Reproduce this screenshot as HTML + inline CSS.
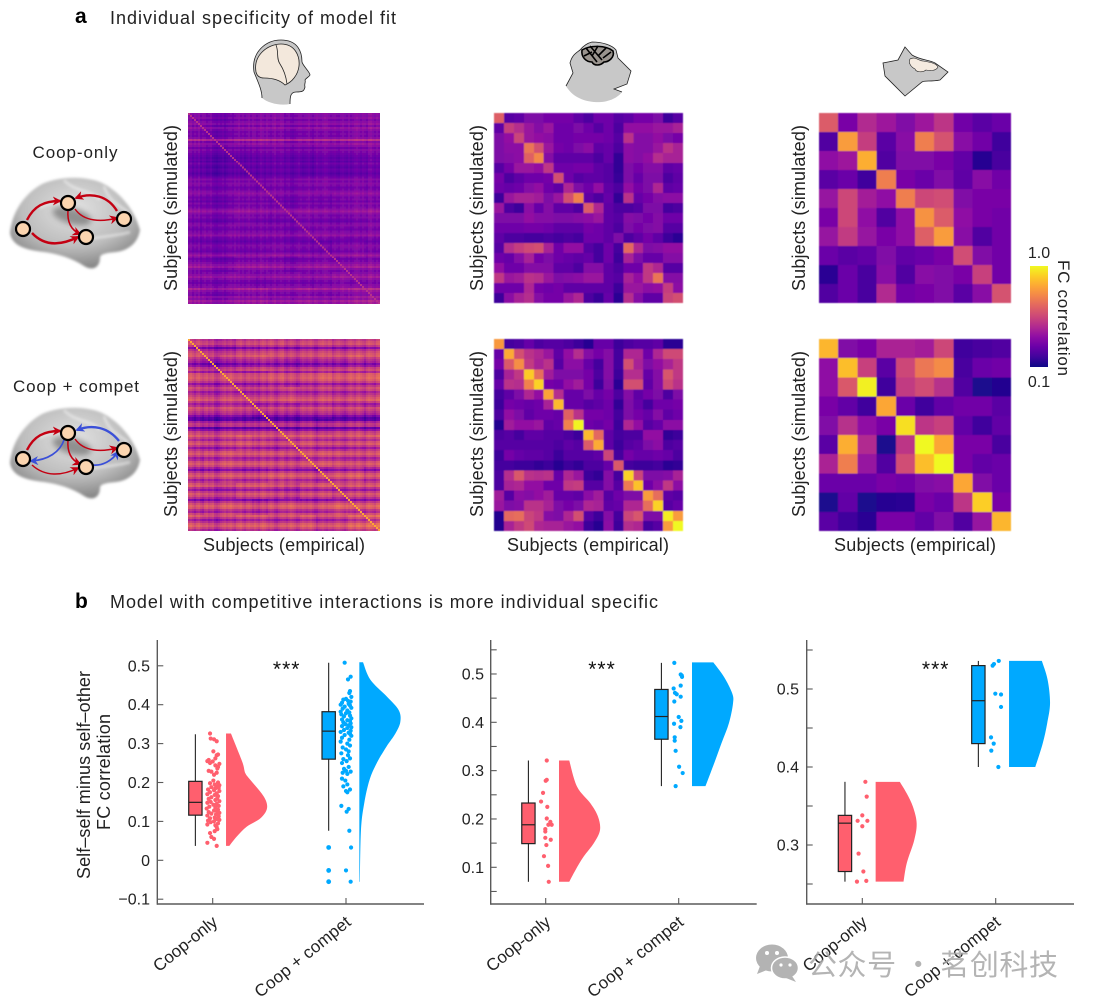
<!DOCTYPE html>
<html lang="en">
<head>
<meta charset="utf-8">
<title>Individual specificity of model fit</title>
<style>
html,body{margin:0;padding:0;background:#fff;}
svg{display:block;font-family:"Liberation Sans","Noto Sans CJK SC",sans-serif;fill:#222;}
text{font-size:18px;}
.tick{font-size:16px;fill:#222;}
</style>
</head>
<body>
<svg id="fig" xmlns="http://www.w3.org/2000/svg" width="1093" height="1008" viewBox="0 0 1093 1008">
<defs>
<radialGradient id="brainFill" cx="0.5" cy="0.35" r="0.68">
<stop offset="0" stop-color="#e2e2e2"/><stop offset="0.6" stop-color="#bdbdbd"/><stop offset="1" stop-color="#7f7f7f"/>
</radialGradient>
<filter id="soft" x="-10%" y="-10%" width="120%" height="120%"><feGaussianBlur stdDeviation="1.2"/></filter>
<filter id="softer" x="-30%" y="-30%" width="160%" height="160%"><feGaussianBlur stdDeviation="3"/></filter>
<filter id="heatBlur" x="-2%" y="-2%" width="104%" height="104%"><feGaussianBlur stdDeviation="0.5"/></filter>
<filter id="denseBlur" x="-2%" y="-2%" width="104%" height="104%"><feGaussianBlur stdDeviation="0.35"/></filter>
<marker id="arrowRed" viewBox="0 0 10 10" refX="8" refY="5" markerWidth="9" markerHeight="9" markerUnits="userSpaceOnUse" orient="auto"><path d="M0,0L10,5L0,10L3,5Z" fill="#c40012"/></marker>
<marker id="arrowBlue" viewBox="0 0 10 10" refX="8" refY="5" markerWidth="9" markerHeight="9" markerUnits="userSpaceOnUse" orient="auto"><path d="M0,0L10,5L0,10L3,5Z" fill="#3a4fd8"/></marker>
<linearGradient id="cbarGrad" x1="0" y1="1" x2="0" y2="0"></linearGradient>
<g id="brainShape">
<path d="M10,233C12,212 24,194 42,184C60,176 84,176 100,182C118,190 134,208 140,230C138,242 130,250 116,252C106,253 100,254 100,258C100,266 94,272 84,266C72,258 58,254 44,252C26,250 12,246 10,233Z" fill="url(#brainFill)" filter="url(#soft)"/>
<ellipse cx="72" cy="216" rx="20" ry="8" fill="#5e5e5e" opacity=".6" filter="url(#softer)" transform="rotate(15 72 216)"/>
<path d="M64,180C74,192 92,190 100,200M104,186C108,200 118,205 128,212M40,208C52,200 60,205 70,198M86,240C100,236 118,236 130,232" fill="none" stroke="#f0f0f0" stroke-width="3" opacity=".55" filter="url(#soft)"/>
</g>
</defs>

<text x="75" y="23" style="font-size:21px;font-weight:700;fill:#000">a</text>
<text x="110" y="24" textLength="286" lengthAdjust="spacing">Individual specificity of model fit</text>
<text x="75" y="608" style="font-size:21px;font-weight:700;fill:#000">b</text>
<text x="110" y="608" textLength="548" lengthAdjust="spacing">Model with competitive interactions is more individual specific</text>

<g>
<path d="M262,98C262,90 258,82 254,72C251,52 266,40 281,40C298,40 302,52 302,62C303,66 310,72 310,75C309,77 306,78 305,80C306,82 304,84 305,87C304,91 303,92 296,92C290,92 290,98 290,104C280,106 268,103 262,98Z" fill="#c8c8c8" stroke="none"/>
<path d="M262,98C262,90 258,82 254,72C251,52 266,40 281,40C298,40 302,52 302,62C303,66 310,72 310,75C309,77 306,78 305,80C306,82 304,84 305,87C304,91 303,92 296,92C290,92 290,98 290,104" fill="none" stroke="#222" stroke-width=".8"/>
<path d="M256,72C253,55 268,44 281,44C295,44 300,56 299,66C298,75 292,82 285,85C280,80 272,78 264,78C260,78 257,76 256,72Z" fill="#f3e8dc" stroke="#222" stroke-width=".8"/>
<path d="M276,45C279,52 276,58 280,64C284,70 286,76 287,84" fill="none" stroke="#222" stroke-width=".8"/>
</g>
<g>
<path d="M592,42C602,42 612,45 616,50L618,58L631,71L627,84L614,89L622,92C616,100 604,103 594,102C582,101 572,96 566,86L573,73L570,63C572,55 576,53 580,50C584,45 588,43 592,42Z" fill="#c8c8c8" stroke="none"/>
<path d="M566,86L573,73L570,63C572,55 576,53 580,50C584,45 588,43 592,42C602,42 612,45 616,50L618,58L631,71L627,84L614,89L622,92" fill="none" stroke="#222" stroke-width=".8"/>
<path d="M582,50C590,45 606,45 613,51C615,58 608,62 604,62C600,66 594,66 592,62C586,62 581,57 582,50Z" fill="#9a948e" stroke="#000" stroke-width="1.6"/>
<path d="M586,48L597,62M590,46L602,60M598,46L592,56M606,48L598,56M611,52L603,58M584,56L592,52" fill="none" stroke="#000" stroke-width="1.6"/>
</g>
<g>
<path d="M905,47L912,55C920,60 930,60 935,63L948,72L940,80C930,82 925,80 922,82L905,96L885,76L883,63L898,60Z" fill="#c8c8c8" stroke="#222" stroke-width=".8"/>
<path d="M910,59C915,56 919,61 923,61C929,62 936,63 938,67C936,71 930,71 926,70C922,73 916,72 915,69C911,67 908,63 910,59Z" fill="#f5ebe0" stroke="#222" stroke-width=".6"/>
</g>

<text x="75" y="158" text-anchor="middle" textLength="85" style="font-size:17px">Coop-only</text>
<text x="76" y="392" text-anchor="middle" textLength="126" style="font-size:17px">Coop + compet</text>

<g>
<use href="#brainShape"/>
<g fill="none" stroke="#c40012">
<path d="M27,220C34,206 44,201 60,201" stroke-width="2.4" marker-end="url(#arrowRed)"/>
<path d="M32,233C45,247 62,245 78,237" stroke-width="2.4" marker-end="url(#arrowRed)"/>
<path d="M68,210C67,222 71,230 80,234" stroke-width="1.5" marker-end="url(#arrowRed)"/>
<path d="M75,209C84,222 102,222 117,218" stroke-width="1.5" marker-end="url(#arrowRed)"/>
<path d="M117,211C108,196 92,192 76,198" stroke-width="2.4" marker-end="url(#arrowRed)"/>
</g>
<g fill="#fbd5b0" stroke="#000" stroke-width="2.2">
<circle cx="23" cy="229" r="7"/>
<circle cx="68" cy="203" r="7"/>
<circle cx="86" cy="237" r="7"/>
<circle cx="124" cy="219" r="7"/>
</g>
</g>
<g>
<use href="#brainShape" transform="translate(0,230)"/>
<g fill="none" stroke="#c40012">
<path d="M27,450C34,436 44,431 60,431" stroke-width="2.4" marker-end="url(#arrowRed)"/>
<path d="M32,465C45,477 62,476 78,468" stroke-width="1.5" marker-end="url(#arrowRed)"/>
<path d="M68,440C67,452 71,460 80,464" stroke-width="1.5" marker-end="url(#arrowRed)"/>
<path d="M75,439C84,452 102,452 117,448" stroke-width="1.5" marker-end="url(#arrowRed)"/>
</g>
<g fill="none" stroke="#3a4fd8">
<path d="M119,441C108,427 92,424 77,430" stroke-width="2.4" marker-end="url(#arrowBlue)"/>
<path d="M64,440C60,452 48,460 31,461" stroke-width="1.7" marker-end="url(#arrowBlue)"/>
<path d="M93,465C102,466 112,461 118,452" stroke-width="1.7" marker-end="url(#arrowBlue)"/>
</g>
<g fill="#fbd5b0" stroke="#000" stroke-width="2.2">
<circle cx="23" cy="459" r="7"/>
<circle cx="68" cy="433" r="7"/>
<circle cx="86" cy="467" r="7"/>
<circle cx="124" cy="450" r="7"/>
</g>
</g>

<text transform="translate(177,208) rotate(-90)" text-anchor="middle" textLength="166">Subjects (simulated)</text>
<text transform="translate(483,208) rotate(-90)" text-anchor="middle" textLength="166">Subjects (simulated)</text>
<text transform="translate(805,208) rotate(-90)" text-anchor="middle" textLength="166">Subjects (simulated)</text>
<text transform="translate(177,434) rotate(-90)" text-anchor="middle" textLength="166">Subjects (simulated)</text>
<text transform="translate(483,434) rotate(-90)" text-anchor="middle" textLength="166">Subjects (simulated)</text>
<text transform="translate(805,434) rotate(-90)" text-anchor="middle" textLength="166">Subjects (simulated)</text>
<text x="284" y="551" text-anchor="middle" textLength="162">Subjects (empirical)</text>
<text x="588" y="551" text-anchor="middle" textLength="162">Subjects (empirical)</text>
<text x="915" y="551" text-anchor="middle" textLength="162">Subjects (empirical)</text>

<g id="heatmaps"></g>

<rect x="1030" y="266" width="18" height="101" fill="url(#cbarGrad)"/>
<text x="1039" y="258" text-anchor="middle" class="tick">1.0</text>
<text x="1039" y="387" text-anchor="middle" class="tick">0.1</text>
<text transform="translate(1058,318) rotate(90)" text-anchor="middle" textLength="116" style="font-size:17px">FC correlation</text>

<g id="rainclouds"></g>

<text transform="translate(90,775) rotate(-90)" text-anchor="middle" textLength="208" style="font-size:18px">Self–self minus self–other</text>
<text transform="translate(110,772) rotate(-90)" text-anchor="middle" textLength="116" style="font-size:18px">FC correlation</text>

<g>
<g fill="#b3b3b3">
<ellipse cx="772" cy="958" rx="16" ry="13.5"/>
<path d="M760,966L757,974L767,970Z"/>
<ellipse cx="785" cy="968" rx="13.5" ry="11" stroke="#fff" stroke-width="1.5"/>
<path d="M792,976L796,982L786,978Z"/>
</g>
<g fill="#fff"><circle cx="767" cy="953" r="2"/><circle cx="777" cy="953" r="2"/><circle cx="781" cy="965" r="1.6"/><circle cx="790" cy="965" r="1.6"/></g>
<text x="808" y="975" textLength="250" style="font-size:29px;fill:#a8a8a8;opacity:.85;font-family:'Noto Sans CJK SC',sans-serif">公众号 · 茗创科技</text>
</g>
</svg>

<script>
// ---------- colour scale stops (plasma) ----------
const plasmaStops = ['#0d0887','#41049d','#6a00a8','#8f0da4','#b12a90','#cc4778','#e16462','#f2844b','#fca636','#fcce25','#f0f921'];

// ---------- heatmap data: FC level on 0-100 colour scale ----------
const macaqueCoopOnly = [
[55,12,14,22,22,20,20,20,14,10,18,18,12,14,20,20,22,6,12],
[14,44,38,30,24,30,18,18,22,18,12,18,10,28,28,28,30,30,34],
[22,28,46,30,28,26,18,18,20,20,20,18,12,40,24,24,28,22,20],
[22,26,26,62,50,30,20,18,22,26,14,16,10,26,24,24,30,40,34],
[22,24,26,56,68,24,14,14,14,14,10,16,4,26,24,28,38,34,34],
[12,20,30,30,28,42,18,18,20,20,14,12,4,22,20,24,24,14,16],
[20,10,14,18,18,20,50,18,12,14,14,12,5,22,16,22,22,10,14],
[18,16,18,24,28,18,14,36,22,18,28,14,10,28,20,22,36,14,16],
[6,30,34,34,32,22,30,50,66,14,10,16,4,40,16,20,24,26,26],
[30,10,6,26,16,24,14,14,10,54,36,14,10,10,12,22,22,8,10],
[22,22,22,28,24,24,22,22,24,26,30,14,12,24,22,20,24,18,18],
[18,18,18,20,20,18,14,14,14,20,18,14,10,22,20,22,24,12,12],
[14,10,10,8,8,10,8,10,8,18,18,14,22,10,14,20,14,6,3],
[12,38,44,48,50,34,18,28,28,12,8,18,8,58,36,22,24,28,28],
[18,16,24,34,20,22,18,16,14,16,8,18,6,34,22,16,16,24,24],
[28,18,18,24,24,24,14,14,10,24,24,14,10,18,18,42,36,12,12],
[42,30,32,40,38,30,22,24,26,30,30,14,12,34,28,42,62,24,24],
[18,18,18,36,20,18,20,14,14,14,14,14,6,30,30,26,28,44,26],
[6,26,34,38,24,20,20,30,36,10,5,16,3,38,24,14,14,46,50]];

const macaqueCompet = [
[75,10,12,18,12,14,14,12,8,4,18,18,8,12,14,14,16,5,5],
[18,80,52,42,38,32,16,30,40,26,22,26,10,38,38,20,38,50,50],
[22,55,72,45,36,42,14,28,28,18,10,26,10,52,36,24,30,36,44],
[12,36,44,88,62,34,24,24,24,22,12,26,8,40,40,18,26,54,44],
[18,42,40,68,90,22,20,30,34,22,8,24,5,52,52,16,26,50,42],
[10,16,24,38,30,78,40,18,18,24,18,22,12,26,16,22,24,12,24],
[8,22,20,18,20,36,84,18,18,14,16,20,6,24,18,10,20,20,22],
[12,30,24,16,20,20,18,58,42,22,22,20,10,24,22,18,26,16,20],
[3,34,30,30,32,16,18,68,98,20,18,22,8,38,30,14,18,28,28],
[12,14,10,16,16,14,14,12,8,84,60,16,10,12,12,30,30,6,8],
[14,14,14,14,14,14,12,16,14,56,80,16,8,14,16,24,28,12,14],
[8,22,18,16,16,14,8,14,14,14,16,48,10,22,18,18,20,18,12],
[10,10,8,8,6,8,4,8,6,12,12,18,55,10,8,8,10,5,6],
[12,40,55,42,40,42,18,38,32,8,6,26,10,90,48,24,24,26,36],
[12,36,38,30,30,20,20,44,46,14,14,26,14,66,86,20,28,44,28],
[34,14,28,26,30,34,18,18,16,28,34,14,20,24,24,76,62,16,14],
[32,24,26,42,42,36,24,22,24,38,36,16,18,38,38,62,90,14,18],
[3,60,62,48,44,26,24,38,52,14,8,26,10,48,54,24,24,96,76],
[3,36,44,50,38,36,36,32,30,8,4,28,8,40,38,10,14,76,100]];

const ratCoopOnly = [
[55,22,38,32,24,32,42,20,14,18],
[12,75,45,14,26,66,52,26,20,8],
[28,32,80,12,24,24,22,16,3,10],
[14,18,8,66,22,18,24,15,26,20],
[30,48,34,28,66,48,50,24,22,22],
[22,48,28,12,28,72,55,28,22,20],
[30,44,30,22,28,56,75,26,12,20],
[18,14,16,24,16,18,22,50,24,20],
[4,18,10,26,12,26,24,22,46,20],
[12,18,10,38,20,22,24,14,26,52]];

const ratCompet = [
[84,26,24,38,38,36,50,10,12,14],
[30,86,48,16,50,66,72,12,20,22],
[30,56,98,10,46,52,42,14,3,4],
[24,18,10,80,20,10,18,22,22,16],
[26,42,30,24,94,44,48,18,10,18],
[16,82,40,3,44,100,80,24,24,12],
[38,68,32,14,52,86,100,24,18,20],
[20,20,20,24,22,26,28,80,26,20],
[3,18,3,5,6,24,20,44,90,24],
[16,10,6,24,24,18,26,14,32,84]];

// Human matrices: per-subject levels read from the row and column striping,
// plus coarse regional levels for the patchy texture
const humanCoopRowLevels = [
30,28,31,26,30,33,26,34,30,26,28,26,
30,44,28,34,32,26,31,28,26,24,22,24,
20,26,22,20,24,22,19,22,25,30,26,30,
28,24,26,30,34,30,26,28,24,30,26,28,
32,36,30,26,28,24,22,28,30,26,24,28,
30,34,26,24,22,26,30,28,26,24,30,36,
28,24,26,30,34,38,30,26,28,32,36,30,
26,24,28,30,40,32,28,26,34,30,38,34];
const humanCoopColLevels = [
2,3,-1,2,0,3,-2,1,2,-1,0,2,
-2,-3,-4,-2,-3,-1,-4,-2,0,1,-1,2,
1,3,0,2,-1,1,3,0,2,1,-2,0,
3,1,-1,2,0,-2,1,3,-1,0,2,1,
-2,0,1,-2,-3,-1,0,2,1,-1,0,1,
3,0,-2,1,2,0,-1,1,3,2,0,-2,
1,2,0,-1,2,3,1,0,2,-1,1,3,
4,2,0,3,1,-1,4,5,2,0,3,1];
const humanCoopPatches = [
[-3,-5,-6,-4,-3,-2,-4,-3,-2,-4,-3,-2],
[-4,-6,-5,-4,-2,-3,-5,-4,-3,-4,-2,-3],
[-5,-7,-6,-7,-5,-4,-5,-6,-4,-6,-5,-4],
[-4,-6,-4,-5,-4,-3,-3,-5,-3,-5,-4,-3],
[-3,-4,-3,-4,-5,-3,-4,-3,-2,-4,-3,-4],
[-5,-6,-5,-4,-4,-5,-6,-4,-5,-4,-3,-4],
[-3,-4,-3,-2,-3,-4,-3,-2,-3,-4,-3,-2],
[-4,-3,-2,-4,-3,-3,-4,-3,-2,-3,-4,-3],
[-4,-4,-3,-5,-4,-2,-3,-4,-5,-3,-2,-4],
[-3,-4,-5,-3,-2,-3,-5,-3,-2,-4,-3,-3],
[-4,-3,-2,-4,-5,-3,-2,-4,-3,-1,-3,-2],
[-3,-5,-4,-3,-2,-4,-3,-2,-4,-3,-1,0]];
const humanCoopDiagonal = 42;

const humanCompetRowLevels = [
45,51,53,43,27,41,49,53,57,47,41,37,
25,33,47,51,35,53,55,57,53,45,31,41,
53,49,37,43,49,55,59,47,35,41,53,49,
43,39,27,17,21,41,49,47,23,35,51,55,
57,47,39,51,55,45,33,43,53,57,49,37,
41,53,57,51,41,29,45,55,59,51,39,47,
53,57,43,33,47,55,51,41,27,43,53,59,
55,43,37,51,57,47,35,45,55,59,51,41];
const humanCompetColLevels = [
4,6,2,-2,3,5,0,-3,2,4,-1,1,
3,-4,-6,-3,-1,2,4,0,3,5,1,-2,
2,4,6,1,-2,3,5,2,-1,3,0,-3,
2,5,3,-1,1,4,2,-3,-5,0,3,4,
1,-2,2,5,3,0,-4,-2,1,4,2,0,
3,5,1,-3,-5,0,2,4,1,-1,3,2,
-2,1,4,5,2,0,-3,1,3,5,2,-1,
4,6,3,0,-4,2,5,3,1,-2,4,6];
const humanCompetPatches = [
[-2,-6,-8,-4,-2,0,-4,-2,0,-4,-2,0],
[-4,-8,-6,-4,0,-2,-6,-4,-2,-4,0,-2],
[-2,-4,-2,-6,-4,0,-4,-2,2,-2,0,2],
[-4,-6,-4,-8,-6,-4,-2,-6,-2,-6,-4,-2],
[-2,-2,0,-4,-6,-2,-4,-2,0,-4,-2,-4],
[-6,-8,-6,-8,-6,-6,-8,-6,-8,-6,-4,-6],
[-2,-4,-2,0,-2,-4,-2,0,-2,-4,-2,0],
[-4,-2,0,-4,-2,-2,-4,-2,0,-2,-4,-2],
[-6,-4,-2,-6,-4,0,-2,-4,-6,-2,0,-4],
[-2,-4,-6,-2,0,-2,-6,-2,0,-4,-2,-2],
[-4,-2,0,-4,-6,-2,0,-4,-2,2,-2,0],
[-2,-6,-4,-2,0,-4,-2,0,-4,-2,2,4]];
const humanCompetDiagonal = 80;

// ---------- raincloud data ----------
const categories = ['Coop-only','Coop + compet'];

const ticksHuman = [-0.1,0,0.1,0.2,0.3,0.4,0.5];
const tickLabelsHuman = ['−0.1','0','0.1','0.2','0.3','0.4','0.5'];
const ticksMacaque = [0.1,0.2,0.3,0.4,0.5];
const tickLabelsMacaque = ['0.1','0.2','0.3','0.4','0.5'];
const minorTicksMacaque = [0.05,0.15,0.25,0.35,0.45,0.55];
const ticksRat = [0.3,0.4,0.5];
const tickLabelsRat = ['0.3','0.4','0.5'];
const minorTicksRat = [0.25,0.35,0.45,0.55];

// box stats: low whisker, q1, median, q3, high whisker
const boxHumanCoop = [0.037,0.116,0.149,0.203,0.324];
const boxHumanCompet = [0.076,0.26,0.332,0.382,0.508];
const boxMacaqueCoop = [0.07,0.149,0.188,0.233,0.321];
const boxMacaqueCompet = [0.268,0.365,0.412,0.468,0.523];
const boxRatCoop = [0.253,0.266,0.328,0.338,0.381];
const boxRatCompet = [0.4,0.43,0.485,0.53,0.536];
const outliersHumanCompet = [0.033,-0.026,-0.055];

// cloud outlines: value and relative density
const cloudHumanCoopV = [0.326,0.292,0.249,0.224,0.207,0.164,0.134,0.108,0.087,0.061,0.037];
const cloudHumanCoopD = [0.12,0.25,0.41,0.47,0.59,0.92,1,0.84,0.51,0.26,0.08];
const cloudHumanCompetV = [0.509,0.464,0.421,0.386,0.356,0.326,0.292,0.249,0.207,0.147,0.078,-0.055];
const cloudHumanCompetD = [0.09,0.27,0.67,0.96,1,0.88,0.66,0.42,0.25,0.12,0.04,0.012];
const cloudMacaqueCoopV = [0.321,0.267,0.232,0.205,0.177,0.15,0.122,0.094,0.07];
const cloudMacaqueCoopD = [0.25,0.44,0.77,0.95,1,0.85,0.6,0.4,0.25];
const cloudMacaqueCompetV = [0.524,0.494,0.46,0.439,0.398,0.357,0.315,0.268];
const cloudMacaqueCompetD = [0.52,0.78,0.98,1,0.9,0.72,0.54,0.33];
const cloudRatCoopV = [0.381,0.366,0.349,0.328,0.306,0.277,0.253];
const cloudRatCoopD = [0.59,0.76,0.91,1,0.94,0.76,0.68];
const cloudRatCompetV = [0.536,0.512,0.482,0.456,0.43,0.4];
const cloudRatCompetD = [0.8,0.94,1,0.93,0.82,0.64];

// scatter points: value and horizontal jitter (category units)
const rainHumanCoopV = [
.326,.313,.311,.306,.28,.272,.27,.262,.258,.255,.254,.25,.248,.244,.24,.236,.23,.228,.225,.22,
.205,.2,.198,.195,.193,.19,.188,.186,.185,.182,.18,.178,.175,.172,.17,.168,.165,.162,.16,.158,
.155,.152,.15,.148,.145,.143,.14,.138,.136,.133,.13,.128,.126,.124,.122,.12,.118,.115,.113,.11,
.108,.106,.104,.102,.1,.098,.095,.092,.09,.085,.08,.075,.07,.06,.055,.045,.037];
const rainHumanCoopJ = [
-.02,-.015,.01,.03,.005,.04,.03,.02,-.03,-.04,0,-.02,.05,.02,.04,.035,-.03,-.01,.03,.01,
.005,.04,-.02,.015,.05,.03,-.01,.045,.02,-.035,.01,.05,-.02,.03,-.04,.015,.04,-.01,.035,-.03,
.02,.05,-.015,-.04,.03,.005,.045,-.025,.02,-.045,.04,.01,.035,-.03,.05,-.01,.025,-.04,.045,.015,
-.02,.03,.05,-.035,.01,-.015,.04,-.04,.02,.03,.035,.015,-.02,-.01,.01,-.04,.03];
const rainHumanCompetV = [
.508,.472,.465,.435,.43,.42,.415,.413,.41,.408,.405,.402,.4,.398,.395,.392,.39,.385,.382,.38,
.378,.375,.372,.37,.365,.362,.36,.358,.355,.352,.35,.347,.345,.342,.34,.335,.333,.33,.328,.325,
.322,.32,.315,.31,.305,.3,.295,.29,.285,.28,.275,.27,.262,.26,.255,.25,.24,.235,.23,.228,
.225,.222,.21,.205,.195,.19,.182,.178,.175,.14,.132,.125,.076,.033,-.026,-.055];
const rainHumanCompetJ = [
-.01,.035,.015,.03,.025,.04,0,-.02,.015,.035,-.03,.02,-.04,.03,-.01,.04,-.025,.01,-.04,.025,
0,-.035,.03,-.015,.04,-.03,.01,.03,-.02,.035,-.005,.02,-.03,.04,.01,-.015,.035,-.04,.02,.03,
-.01,.04,-.03,.025,-.04,.01,.03,-.025,0,.02,-.035,.015,.03,-.02,.005,-.03,.02,-.015,0,.035,
-.025,.01,-.03,-.005,.01,-.02,.03,0,.01,-.035,.02,.005,.025,.038,0,.035];
const rainMacaqueCoopV = [.321,.281,.279,.254,.236,.225,.201,.194,.188,.188,.179,.174,.161,.157,.146,.123,.103,.07];
const rainMacaqueCoopJ = [.008,.008,0,-.02,-.035,.012,.008,.035,.02,.045,-.003,-.003,-.003,.038,.005,-.013,.018,.023];
const rainMacaqueCompetV = [.523,.499,.497,.494,.476,.47,.461,.458,.453,.443,.411,.403,.397,.39,.369,.362,.341,.308,.295,.268];
const rainMacaqueCompetJ = [-.033,.015,.023,.025,.015,-.038,-.028,-.015,.015,-.033,0,.02,-.035,.013,-.03,-.03,-.023,.003,.03,-.023];
const rainRatCoopV = [.381,.362,.338,.331,.331,.324,.289,.266,.253,.254];
const rainRatCoopJ = [.023,.033,0,-.035,.038,0,-.028,.008,-.04,.03];
const rainRatCompetV = [.536,.532,.53,.494,.493,.477,.438,.43,.421,.4];
const rainRatCompetJ = [.023,-.013,-.023,-.003,.04,.04,-.035,-.015,-.033,.02];

// ---------- helpers ----------
const SVGNS = 'http://www.w3.org/2000/svg';
function make(tag, parent, attrs) {
  const el = document.createElementNS(SVGNS, tag);
  for (const k in attrs) el.setAttribute(k, attrs[k]);
  parent.appendChild(el);
  return el;
}
function hexToRgb(h) {
  return [parseInt(h.slice(1,3),16), parseInt(h.slice(3,5),16), parseInt(h.slice(5,7),16)];
}
function colorScale(level) {
  const t = Math.max(0, Math.min(1, level / 100)) * (plasmaStops.length - 1);
  const i = Math.min(plasmaStops.length - 2, Math.floor(t));
  const a = hexToRgb(plasmaStops[i]);
  const b = hexToRgb(plasmaStops[i + 1]);
  const f = t - i;
  return 'rgb(' + a.map((v, k) => Math.round(v + (b[k] - v) * f)).join(',') + ')';
}

// colour bar gradient
const cbarGrad = document.getElementById('cbarGrad');
plasmaStops.forEach((c, i) => {
  make('stop', cbarGrad, {offset: i / (plasmaStops.length - 1), 'stop-color': c});
});

// ---------- heatmaps ----------
function drawHeatmap(name, level, n, left, top, right, bottom, blurId) {
  const parent = document.getElementById('heatmaps');
  const g = make('g', parent, {'shape-rendering': 'crispEdges', filter: 'url(#' + blurId + ')'});
  
  
  const cw = (right - left) / n;
  const ch = (bottom - top) / n;
  for (let r = 0; r < n; r++) {
    for (let c = 0; c < n; c++) {
      const overlapW = c < n - 1 ? 0.4 : 0;
      const overlapH = r < n - 1 ? 0.4 : 0;
      const cell = make('rect', g, {
        x: left + c * cw, y: top + r * ch,
        width: cw + overlapW, height: ch + overlapH,
        fill: colorScale(level(r, c))
      });
      
      
    }
  }
}
function fromMatrix(m, lift) { return (r, c) => m[r][c] + lift; }
function fromLevels(rows, cols, patches, diag) {
  return (r, c) => (r === c ? diag : rows[r] + cols[c] + patches[Math.floor(r / 8)][Math.floor(c / 8)]);
}
drawHeatmap('heatmap-human-coop-only', fromLevels(humanCoopRowLevels, humanCoopColLevels, humanCoopPatches, humanCoopDiagonal), humanCoopRowLevels.length, 188, 113, 380, 304, 'denseBlur');
drawHeatmap('heatmap-human-coop-compet', fromLevels(humanCompetRowLevels, humanCompetColLevels, humanCompetPatches, humanCompetDiagonal), humanCompetRowLevels.length, 188, 339, 380, 531, 'denseBlur');
drawHeatmap('heatmap-macaque-coop-only', fromMatrix(macaqueCoopOnly, 3), macaqueCoopOnly.length, 494, 113, 683, 303, 'heatBlur');
drawHeatmap('heatmap-macaque-coop-compet', fromMatrix(macaqueCompet, 1), macaqueCompet.length, 494, 339, 683, 531, 'heatBlur');
drawHeatmap('heatmap-rat-coop-only', fromMatrix(ratCoopOnly, 2), ratCoopOnly.length, 819, 113, 1011, 303, 'heatBlur');
drawHeatmap('heatmap-rat-coop-compet', fromMatrix(ratCompet, 0), ratCompet.length, 819, 339, 1011, 531, 'heatBlur');

// ---------- raincloud panels ----------
const COLORS = ['#ff5f6e', '#00a9ff'];
const AXIS = '#5a5a5a';

function smoothPath(pts) {
  let d = 'L' + pts[0][0].toFixed(2) + ',' + pts[0][1].toFixed(2);
  for (let i = 0; i < pts.length - 1; i++) {
    const p0 = pts[Math.max(0, i - 1)];
    const p1 = pts[i];
    const p2 = pts[i + 1];
    const p3 = pts[Math.min(pts.length - 1, i + 2)];
    const c1x = p1[0] + (p2[0] - p0[0]) / 6;
    const c1y = p1[1] + (p2[1] - p0[1]) / 6;
    const c2x = p2[0] - (p3[0] - p1[0]) / 6;
    const c2y = p2[1] - (p3[1] - p1[1]) / 6;
    d += 'C' + [c1x, c1y, c2x, c2y, p2[0], p2[1]].map(v => v.toFixed(2)).join(',');
  }
  return d;
}

function drawPanel(name, layout, ticks, labels, minor, groups, outliers) {
  const root = document.getElementById('rainclouds');
  const g = make('g', root, {});
  
  

  const yScale = v => layout.zeroY - v * layout.unit;
  const xScale = p => layout.cat0 + p * layout.gap;

  const yAxis = make('line', g, {x1: layout.axisX, x2: layout.axisX, y1: layout.top, y2: layout.bottom + 0.7, stroke: AXIS, 'stroke-width': 1.4});
  
  
  const xAxis = make('line', g, {x1: layout.axisX, x2: layout.right, y1: layout.bottom, y2: layout.bottom, stroke: AXIS, 'stroke-width': 1.4});
  
  

  ticks.forEach((v, i) => {
    const t = make('line', g, {x1: layout.axisX, x2: layout.axisX + 6, y1: yScale(v), y2: yScale(v), stroke: AXIS, 'stroke-width': 1.1});
    
    
    const lab = make('text', g, {x: layout.labelX, y: yScale(v) + 5.5, 'text-anchor': 'end', class: 'tick'});
    lab.textContent = labels[i];
    
    
  });
  minor.forEach(v => {
    const t = make('line', g, {x1: layout.axisX, x2: layout.axisX + 6, y1: yScale(v), y2: yScale(v), stroke: AXIS, 'stroke-width': 1.1});
    
    
  });

  const labelLengths = [77, 118];
  categories.forEach((cat, i) => {
    const x = xScale(i);
    const t = make('line', g, {x1: x, x2: x, y1: layout.bottom, y2: layout.bottom - 6, stroke: AXIS, 'stroke-width': 1.1});
    
    
    const lab = make('text', g, {'text-anchor': 'end', textLength: labelLengths[i], transform: 'translate(' + (x + 6) + ',924) rotate(-39)', style: 'font-size:17px'});
    lab.textContent = cat;
    
    
  });

  const stars = make('text', g, {x: layout.starsX, y: 676, 'text-anchor': 'middle', style: 'font-size:21px;fill:#111;letter-spacing:1px'});
  stars.textContent = '***';
  
  

  groups.forEach((grp, i) => {
    const color = COLORS[i];
    // cloud
    const base = xScale(i + 0.1);
    const pts = grp.cloudV.map((v, k) => [base + grp.cloudD[k] * 41, yScale(v)]);
    const d = 'M' + base + ',' + yScale(grp.cloudV[0]) + smoothPath(pts) + 'L' + base + ',' + yScale(grp.cloudV[grp.cloudV.length - 1]) + 'Z';
    const cloud = make('path', g, {d: d, fill: color});
    
    
    // rain
    grp.rainV.forEach((v, k) => {
      const dot = make('circle', g, {cx: xScale(i + grp.rainJ[k]), cy: yScale(v), r: 2.1, fill: color});
      
      
    });
    // box
    const cx = xScale(i - 0.13);
    const hw = layout.gap * 0.05;
    const [lo, q1, med, q3, hi] = grp.box;
    const whisker = make('line', g, {x1: cx, x2: cx, y1: yScale(hi), y2: yScale(lo), stroke: '#222', 'stroke-width': 1.1});
    
    
    const box = make('rect', g, {x: cx - hw, y: yScale(q3), width: 2 * hw, height: yScale(q1) - yScale(q3), fill: color, stroke: '#222', 'stroke-width': 1.2});
    
    
    const median = make('line', g, {x1: cx - hw, x2: cx + hw, y1: yScale(med), y2: yScale(med), stroke: '#222', 'stroke-width': 1.2});
    
    
    if (i === 1) {
      outliers.forEach(v => {
        const o = make('circle', g, {cx: cx, cy: yScale(v), r: 2.4, fill: color});
        
        
      });
    }
  });
}

drawPanel('raincloud-human',
  {axisX: 157.3, right: 424, top: 640, bottom: 904, zeroY: 860.3, unit: 389, cat0: 212.7, gap: 133.3, labelX: 150, starsX: 286.7},
  ticksHuman, tickLabelsHuman, [],
  [{box: boxHumanCoop, cloudV: cloudHumanCoopV, cloudD: cloudHumanCoopD, rainV: rainHumanCoopV, rainJ: rainHumanCoopJ},
   {box: boxHumanCompet, cloudV: cloudHumanCompetV, cloudD: cloudHumanCompetD, rainV: rainHumanCompetV, rainJ: rainHumanCompetJ}],
  outliersHumanCompet);

drawPanel('raincloud-macaque',
  {axisX: 490.7, right: 756.7, top: 640, bottom: 904, zeroY: 915.63, unit: 483.3, cat0: 545.7, gap: 133, labelX: 484, starsX: 602},
  ticksMacaque, tickLabelsMacaque, minorTicksMacaque,
  [{box: boxMacaqueCoop, cloudV: cloudMacaqueCoopV, cloudD: cloudMacaqueCoopD, rainV: rainMacaqueCoopV, rainJ: rainMacaqueCoopJ},
   {box: boxMacaqueCompet, cloudV: cloudMacaqueCompetV, cloudD: cloudMacaqueCompetD, rainV: rainMacaqueCompetV, rainJ: rainMacaqueCompetJ}],
  []);

drawPanel('raincloud-rat',
  {axisX: 806.7, right: 1074, top: 640, bottom: 904, zeroY: 1079, unit: 780, cat0: 862.3, gap: 133.4, labelX: 799, starsX: 935.7},
  ticksRat, tickLabelsRat, minorTicksRat,
  [{box: boxRatCoop, cloudV: cloudRatCoopV, cloudD: cloudRatCoopD, rainV: rainRatCoopV, rainJ: rainRatCoopJ},
   {box: boxRatCompet, cloudV: cloudRatCompetV, cloudD: cloudRatCompetD, rainV: rainRatCompetV, rainJ: rainRatCompetJ}],
  []);
</script>
</body>
</html>
